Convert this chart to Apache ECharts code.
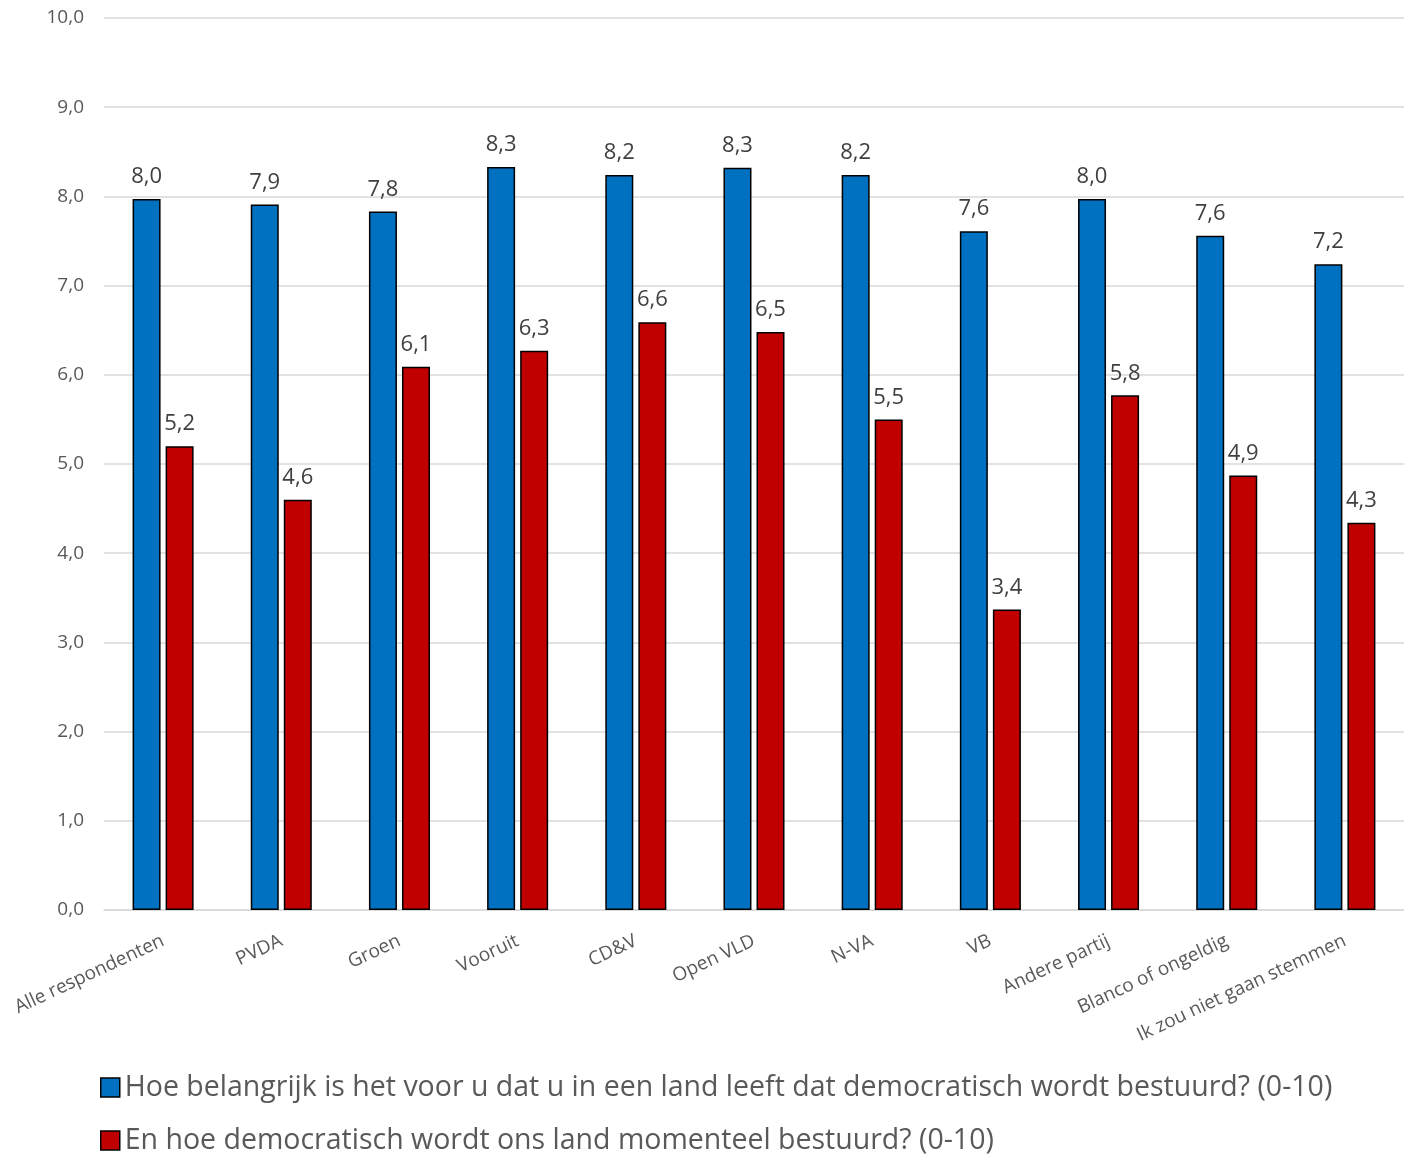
<!DOCTYPE html>
<html><head><meta charset="utf-8">
<script src="https://cdn.jsdelivr.net/npm/echarts@6/dist/echarts.min.js"></script>
<style>html,body{margin:0;padding:0;background:#fff}#c{width:1404px;height:1155px}</style>
</head><body><div id="c"></div>
<script>
const categories = ["Alle respondenten","PVDA","Groen","Vooruit","CD&V","Open VLD","N-VA","VB","Andere partij","Blanco of ongeldig","Ik zou niet gaan stemmen"];
const seriesNames = ["Hoe belangrijk is het voor u dat u in een land leeft dat democratisch wordt bestuurd? (0-10)","En hoe democratisch wordt ons land momenteel bestuurd? (0-10)"];
const importance = [7.97,7.91,7.83,8.33,8.24,8.32,8.24,7.61,7.97,7.56,7.24];
const current = [5.20,4.60,6.09,6.27,6.59,6.48,5.50,3.37,5.77,4.87,4.34];
const fmt = v => v.toFixed(1).replace('.', ',');
const font = '"Open Sans", "Noto Sans", sans-serif';
const legendBase = {orient:'horizontal',left:95,itemWidth:19,itemHeight:19,itemGap:10,icon:'rect',
    textStyle:{fontSize:28.5,color:'#595959',fontFamily:font},
    itemStyle:{borderColor:'#000',borderWidth:1.5}};
const chart = echarts.init(document.getElementById('c'));
chart.setOption({
  animation:false,
  textStyle:{fontFamily:font},
  grid:{left:104,right:-2,top:18,bottom:245},
  legend:[
    Object.assign({}, legendBase, {top:1068, data:[seriesNames[0]]}),
    Object.assign({}, legendBase, {top:1121, data:[seriesNames[1]]})
  ],
  xAxis:{type:'category',data:categories,
    axisLine:{lineStyle:{color:'#d9d9d9',width:1.5}},axisTick:{show:false},
    axisLabel:{interval:0,rotate:25,fontSize:19,color:'#595959',margin:30,fontFamily:font}},
  yAxis:{type:'value',min:0,max:10,interval:1,
    axisLine:{show:false},axisTick:{show:false},
    splitLine:{lineStyle:{color:'#d9d9d9',width:1.5}},
    axisLabel:{formatter:v=>fmt(v),fontSize:19,color:'#595959',margin:20,fontFamily:font}},
  series:[
    {name:seriesNames[0],type:'bar',data:importance,barWidth:28,barGap:'18%',
     itemStyle:{color:'#0070C0',borderColor:'#000',borderWidth:1.5},
     label:{show:true,position:'top',distance:11,formatter:p=>fmt(p.value),fontSize:22,color:'#404040',fontFamily:font}},
    {name:seriesNames[1],type:'bar',data:current,barWidth:28,
     itemStyle:{color:'#C00000',borderColor:'#000',borderWidth:1.5},
     label:{show:true,position:'top',distance:11,formatter:p=>fmt(p.value),fontSize:22,color:'#404040',fontFamily:font}}
  ]
});
</script></body></html>
